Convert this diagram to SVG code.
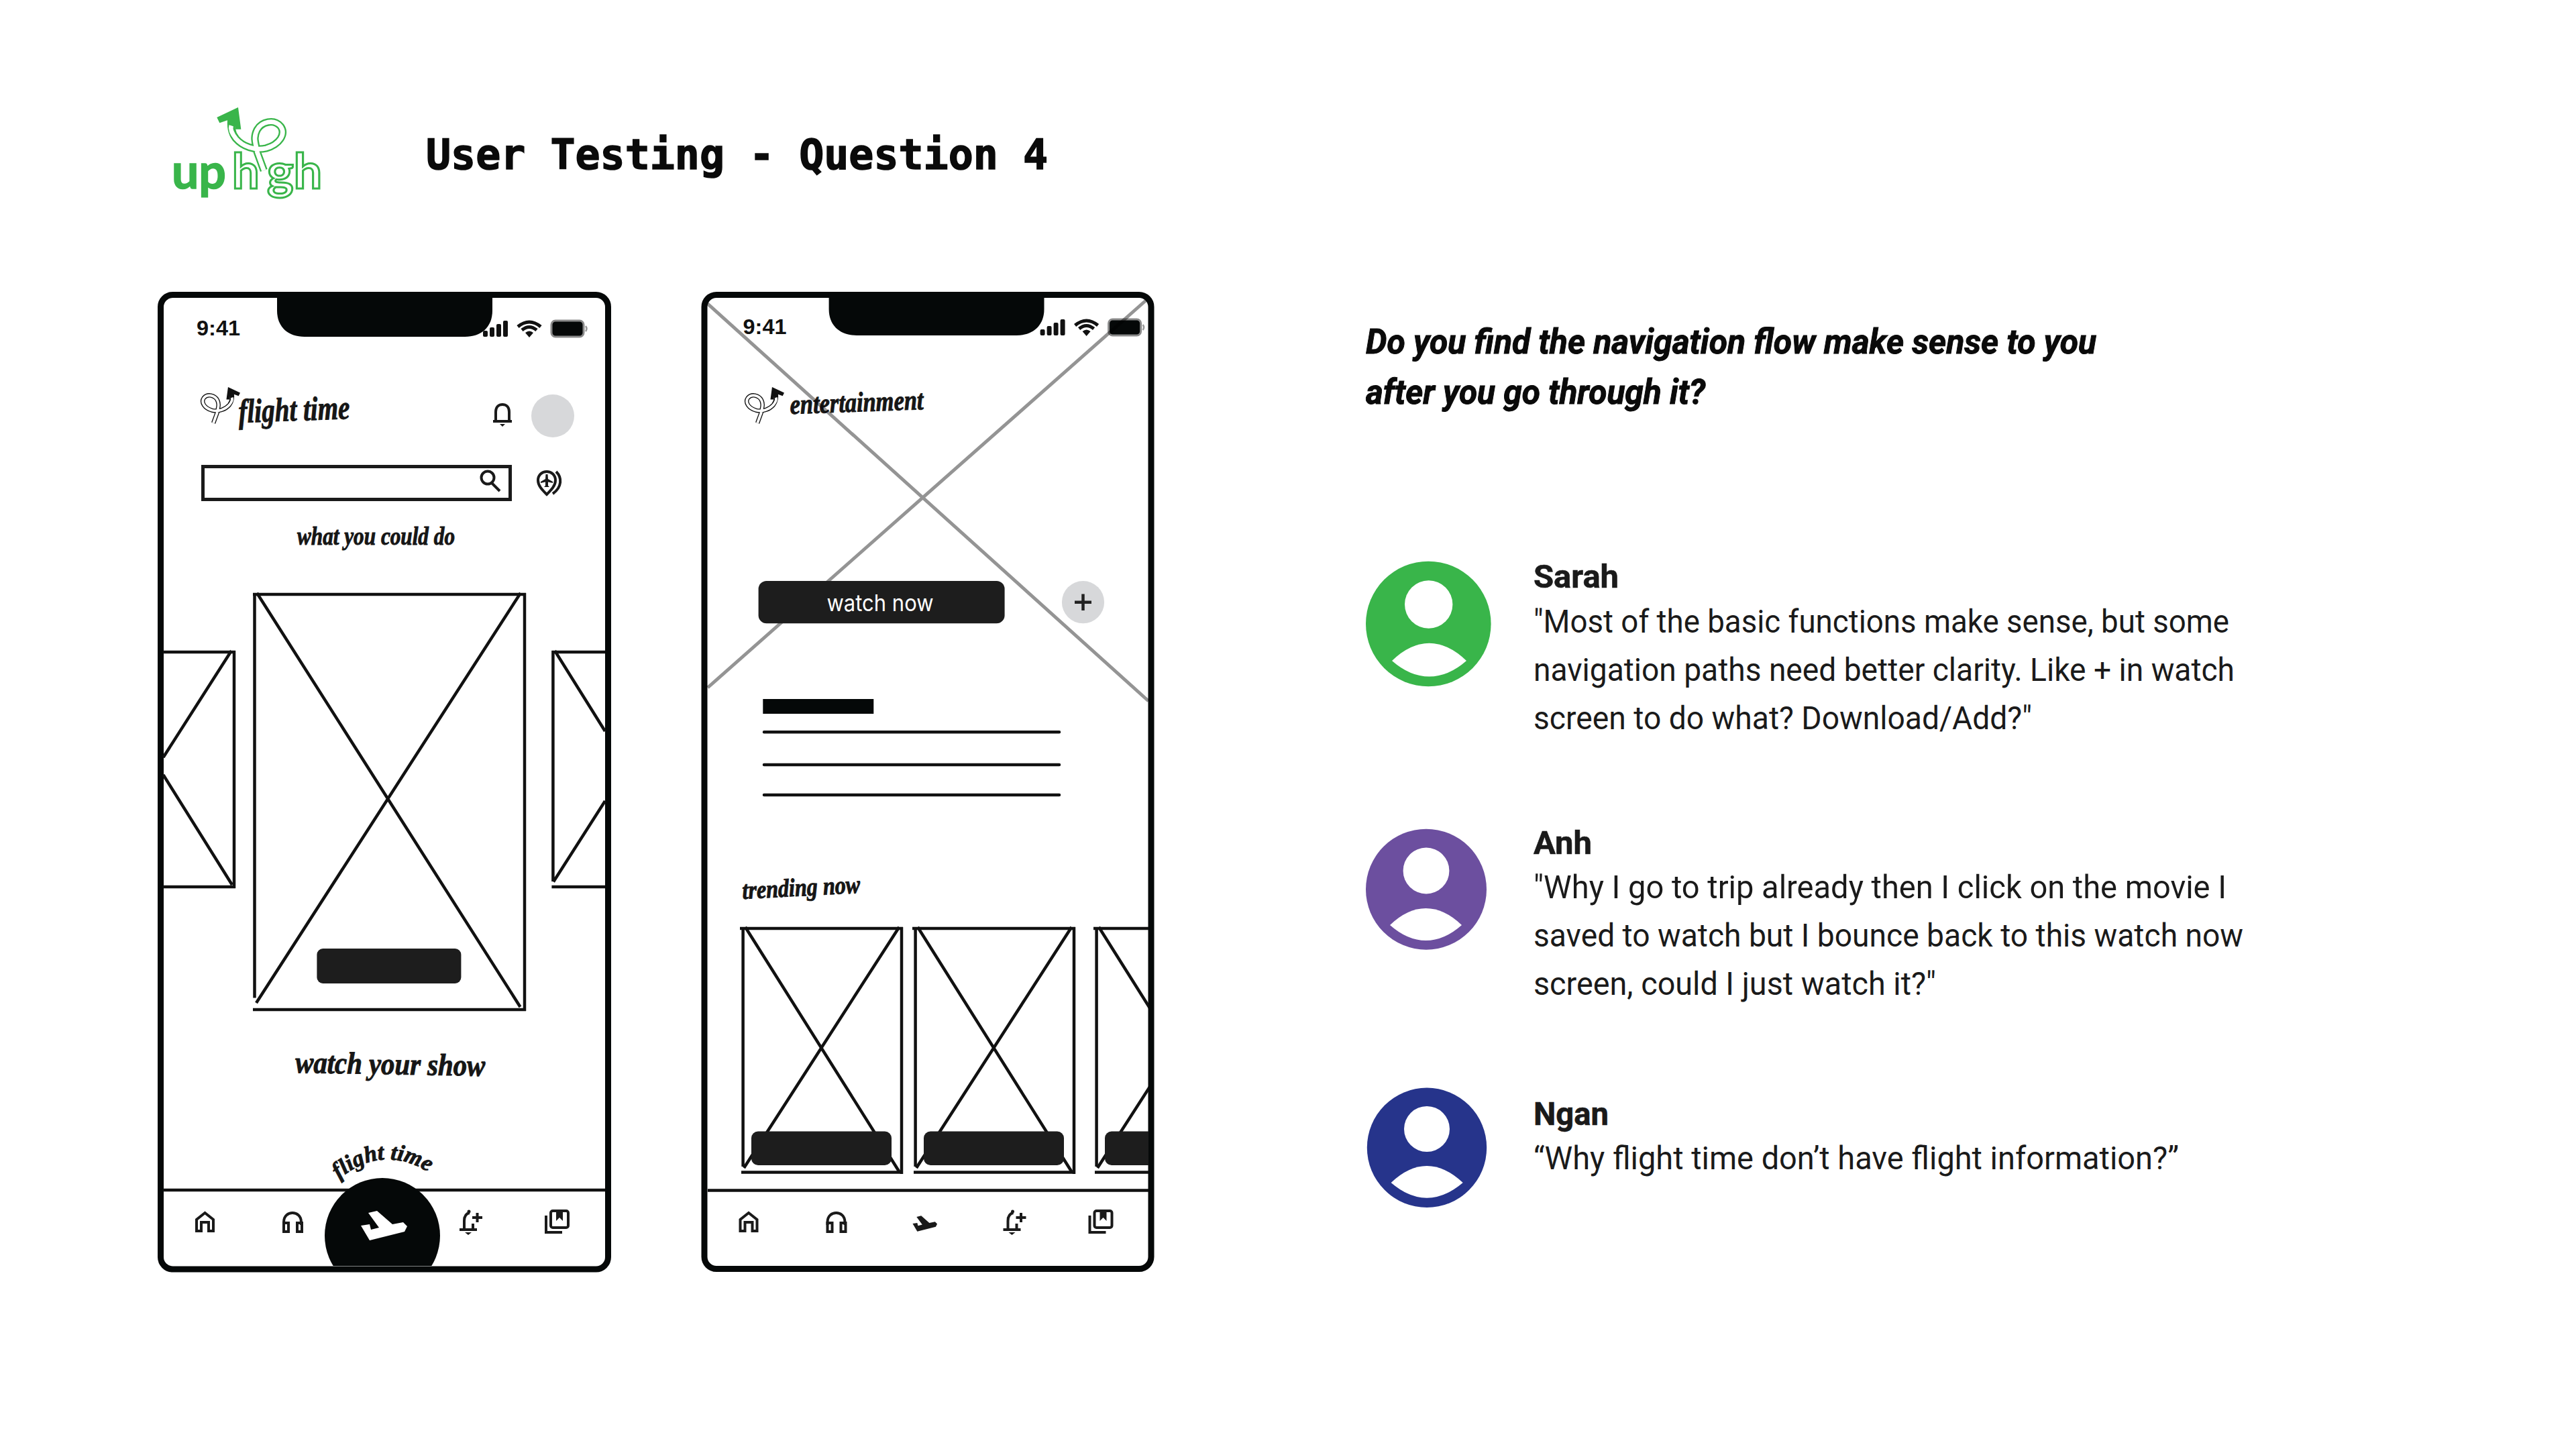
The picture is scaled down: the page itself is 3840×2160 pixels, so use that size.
<svg xmlns="http://www.w3.org/2000/svg" width="3840" height="2160" viewBox="0 0 3840 2160">
<style>
.frame{fill:#fff;stroke:#050808;stroke-width:9}
.ln{stroke:#111;stroke-width:4.5;fill:none}
.btn{fill:#1d1d1d}
.hand{font-family:"Liberation Serif",serif;font-style:italic;font-weight:700;fill:#161616;stroke:#161616;stroke-width:1}
.time{font-family:"Liberation Sans",sans-serif;font-weight:700;font-size:32px;fill:#111}
.ico{fill:none;stroke:#1a1a1a;stroke-width:4}
.q{font-family:Roboto,sans-serif;font-size:52px;font-weight:700;font-style:italic;fill:#0a0a0a;stroke:#0a0a0a;stroke-width:1}
.name{font-family:Roboto,sans-serif;font-size:48px;font-weight:700;fill:#1a1a1a;stroke:#1a1a1a;stroke-width:.6}
.body{font-family:Roboto,sans-serif;font-size:49px;font-weight:400;fill:#1a1a1a}
.logo{font-family:Lato,sans-serif;font-weight:700;font-size:72px}
</style>
<defs>
<g id="loop">
<path d="M460,312 L430,230 C425,190 410,170 430,130 C450,95 505,80 535,115 C560,150 530,195 470,213 C420,225 365,205 335,170 C315,145 310,110 316,72" fill="none" stroke="currentColor" stroke-width="34"/>
<path d="M460,312 L430,230 C425,190 410,170 430,130 C450,95 505,80 535,115 C560,150 530,195 470,213 C420,225 365,205 335,170 C315,145 310,125 314,112" fill="none" stroke="#fff" stroke-width="20"/>
<path d="M250,75 L345,30 L358,128 L332,128 L326,78 L262,100 Z" fill="currentColor"/>
</g>
<g id="status">
<rect x="0" y="15" width="7" height="9" rx="2" fill="#111"/><rect x="10" y="10" width="7" height="14" rx="2" fill="#111"/><rect x="20" y="5" width="7" height="19" rx="2" fill="#111"/><rect x="30" y="0" width="7" height="24" rx="2" fill="#111"/>
<path d="M52,8 Q69,-6 86,8 M58,13 Q69,4 80,13" fill="none" stroke="#111" stroke-width="5" transform="translate(0,1)"/>
<path d="M63,18 Q69,13 75,18 L69,25 Z" fill="#111"/>
<rect x="102" y="0" width="48" height="24" rx="6" fill="#050808" stroke="#8a8a8a" stroke-width="3"/>
<path d="M153,8 Q156,12 153,16" fill="none" stroke="#999" stroke-width="2.5"/>
</g>
<g id="nav">
<path class="ico" d="M293,1835 V1818 L305.5,1808 L318,1818 V1835 H311 V1822 H300 V1835 Z"/>
<path class="ico" d="M423,1826 V1822 C423,1812 430,1808 436,1808 C442,1808 449,1812 449,1822 V1826"/>
<rect class="ico" x="423" y="1823" width="7" height="13" stroke-width="3.5"/><rect class="ico" x="443" y="1823" width="7" height="13" stroke-width="3.5"/>
<path class="ico" d="M685,1833 H711 M692,1833 V1820 C692,1813 695,1809 700,1808 M705,1824 V1833"/>
<circle cx="699" cy="1806" r="2.5" fill="#1a1a1a"/><path d="M693,1837 H703 L698,1841 Z" fill="#1a1a1a"/>
<path class="ico" d="M704,1815 H719 M711.5,1808 V1822"/>
<path class="ico" d="M814,1812 V1837 H838"/>
<rect class="ico" x="821" y="1805" width="26" height="25" rx="3"/>
<path d="M829,1805 V1820 L834,1815 L839,1820 V1805 Z" fill="#1a1a1a"/>
</g>
<path id="plane" d="M-23,-19 L-10,-22 L13,-2 L29,-5 L35,1 L31,9 L-21,22 L-34,0 L-21,-2 L-19,6 L-7,3 Z"/>
<g id="card">
<path class="ln" d="M1106.6,1739 V1382 M1102,1384 H1345 M1343,1382 V1750 M1104,1747.6 H1345"/>
<path class="ln" d="M1110,1382 L1339.4,1746.5 M1339.4,1382 L1108,1741"/>
<rect class="btn" x="1119" y="1686.5" width="209" height="50.5" rx="10"/>
</g>
<path id="arc" d="M505,1758 Q572,1702 646,1752"/>
<clipPath id="p1clip"><rect x="244" y="444" width="658" height="1443"/></clipPath>
<clipPath id="p2clip"><rect x="1055" y="444" width="657" height="1443"/></clipPath>
</defs>
<rect width="3840" height="2160" fill="#fff"/>

<g id="logo" color="#39b54a">
<use href="#loop" transform="translate(240,150) scale(.3333)"/>
<text class="logo" x="256" y="281" fill="#39b54a" stroke="#39b54a" stroke-width="1.5" textLength="81" lengthAdjust="spacingAndGlyphs">up</text>
<text class="logo" x="346" y="281" fill="#fff" stroke="#39b54a" stroke-width="3">h</text>
<text class="logo" x="398" y="281" fill="#fff" stroke="#39b54a" stroke-width="3" textLength="82" lengthAdjust="spacingAndGlyphs">gh</text>
</g>
<g id="title"><text x="635" y="252" font-family="'DejaVu Sans Mono',monospace" font-weight="700" font-size="62" fill="#0a0a0a" stroke="#0a0a0a" stroke-width="1.5" textLength="927" lengthAdjust="spacingAndGlyphs">User Testing - Question 4</text></g>

<g id="phone-flight">
<rect class="frame" x="239.5" y="439.5" width="667" height="1452.5" rx="18"/>
<path d="M413,436 V463 C413,488 430,502 454,502 H693 C717,502 734,488 734,463 V436 Z" fill="#050808"/>
<text class="time" x="293" y="500" textLength="65" lengthAdjust="spacingAndGlyphs">9:41</text>
<use href="#status" x="720" y="478"/>
<use href="#loop" color="#111" transform="translate(405.5,571.3) scale(-.19,.19)"/>
<text class="hand" x="356" y="630" font-size="50" textLength="166" lengthAdjust="spacingAndGlyphs" transform="rotate(-2 356 630)">flight time</text>
<g id="bell"><path class="ico" d="M735,628 H763 M739,628 V614 C739,606 744,603 749,603 C754,603 759,606 759,614 V628"/><path d="M745,632 H753 L749,636 Z" fill="#1a1a1a"/></g>
<circle cx="824" cy="620" r="32" fill="#d7d8da"/>
<rect x="302.5" y="695.5" width="458" height="49" fill="#fff" stroke="#1a1a1a" stroke-width="5"/>
<circle class="ico" cx="727" cy="712" r="9.5"/><path class="ico" d="M733,720 L745,732"/>
<g id="pin"><path class="ico" d="M815,737 C808,730 802,724 802,716 C802,708 808,703 815,703 C822,703 828,708 828,716 C828,724 822,730 815,737 Z"/><path class="ico" d="M829,703 C838,712 838,726 824,736"/><path d="M813.5,707 H816.5 L817,714 L824,718 V720 L817,718.5 L817,724 L819,726 H811 L813,724 L813,718.5 L806,720 V718 L813,714 Z" fill="#1a1a1a"/></g>
<text class="hand" x="443" y="812" font-size="38" textLength="235" lengthAdjust="spacingAndGlyphs">what you could do</text>
<path class="ln" d="M379.5,884 V1487.5 M377,886 H784 M782,884 V1507 M377,1505 H784"/>
<path class="ln" d="M383,884 L775.5,1501 M776,884 L382,1495"/>
<rect class="btn" x="472.4" y="1414" width="215" height="52" rx="9"/>
<path class="ln" d="M243,972 H351 M349,970 V1324 M243,1322 H351 M345,970 L243.4,1129 M346,1319 L243.4,1155"/>
<path class="ln" d="M902,972 H822.4 M824.4,970 V1314 M902,1322 H822.4 M827,970 L902,1090 M825,1314.5 L902,1194"/>
<text class="hand" x="440" y="1599" font-size="46" textLength="283" lengthAdjust="spacingAndGlyphs" transform="rotate(1 440 1599)">watch your show</text>
<path class="ln" d="M243,1774 H902"/>
<text class="hand" font-size="34"><textPath href="#arc" startOffset="0">flight time</textPath></text>
<g clip-path="url(#p1clip)"><circle cx="570" cy="1842" r="86" fill="#050808"/></g>
<use href="#plane" fill="#fff" transform="translate(572,1827)"/>
<use href="#nav"/>
</g>

<g id="phone-entertainment">
<rect class="frame" x="1050" y="439.5" width="666" height="1452" rx="18"/>
<path d="M1235.6,436 V461 C1235.6,486 1253,500 1277,500 H1515 C1539,500 1556.5,486 1556.5,461 V436 Z" fill="#050808"/>
<text class="time" x="1107.5" y="498" textLength="65" lengthAdjust="spacingAndGlyphs">9:41</text>
<use href="#status" x="1550.6" y="476"/>
<use href="#loop" color="#111" transform="translate(1216.5,571.3) scale(-.19,.19)"/>
<text class="hand" x="1178" y="617" font-size="42" textLength="199" lengthAdjust="spacingAndGlyphs" transform="rotate(-2 1178 617)">entertainment</text>
<path d="M1054.7,452.7 L1712,1045 M1708,448 L1055,1025" fill="none" stroke="#000" stroke-opacity=".42" stroke-width="5"/>
<rect class="btn" x="1130.6" y="866" width="367" height="63.3" rx="12"/>
<text x="1312" y="911" text-anchor="middle" font-family="Inter,'Liberation Sans',sans-serif" font-size="34" fill="#fff" textLength="159" lengthAdjust="spacingAndGlyphs">watch now</text>
<circle cx="1614.5" cy="897.7" r="31.6" fill="#d7d8da"/>
<path d="M1602,897.7 H1627 M1614.5,885.5 V910" stroke="#222" stroke-width="4.5" fill="none"/>
<rect x="1137.3" y="1042" width="165" height="22" fill="#050808"/>
<path class="ln" stroke-linecap="round" d="M1139,1091.3 H1579 M1139,1140 H1579 M1139,1185 H1579"/>
<text class="hand" x="1107" y="1340" font-size="38" textLength="176" lengthAdjust="spacingAndGlyphs" transform="rotate(-3 1107 1340)">trending now</text>
<g clip-path="url(#p2clip)">
<use href="#card" x="1"/><use href="#card" x="258"/><use href="#card" x="528"/>
</g>
<path class="ln" d="M1055,1774.5 H1712"/>
<use href="#plane" fill="#1a1a1a" transform="translate(1378.5,1824) scale(.53)"/>
<use href="#nav" x="810.5"/>
</g>

<g id="question">
<text class="q" x="2036" y="527" textLength="1089" lengthAdjust="spacingAndGlyphs">Do you find the navigation flow make sense to you</text>
<text class="q" x="2036" y="602" textLength="506" lengthAdjust="spacingAndGlyphs">after you go through it?</text>
</g>

<g id="sarah">
<circle cx="2129.3" cy="930" r="93.3" fill="#39b54a"/><circle cx="2129.7" cy="901" r="35.7" fill="#fff"/>
<path d="M2075,985 Q2102,958.7 2130.5,958.7 Q2159,958.7 2186,985 Q2159,1008.6 2130.5,1008.6 Q2102,1008.6 2075,985 Z" fill="#fff"/>
<text class="name" x="2286" y="876" textLength="127" lengthAdjust="spacingAndGlyphs">Sarah</text>
<text class="body" x="2286" y="943" textLength="1037" lengthAdjust="spacingAndGlyphs">"Most of the basic functions make sense, but some</text>
<text class="body" x="2286" y="1015" textLength="1045" lengthAdjust="spacingAndGlyphs">navigation paths need better clarity. Like + in watch</text>
<text class="body" x="2286" y="1087" textLength="743" lengthAdjust="spacingAndGlyphs">screen to do what? Download/Add?"</text>
</g>
<g id="anh">
<circle cx="2126" cy="1325.7" r="90" fill="#6c4f9f"/><circle cx="2126" cy="1298" r="34.4" fill="#fff"/>
<path d="M2072,1379 Q2098,1354 2125.5,1354 Q2153,1354 2179,1379 Q2153,1402 2125.5,1402 Q2098,1402 2072,1379 Z" fill="#fff"/>
<text class="name" x="2286" y="1273" textLength="87" lengthAdjust="spacingAndGlyphs">Anh</text>
<text class="body" x="2286" y="1339" textLength="1033" lengthAdjust="spacingAndGlyphs">"Why I go to trip already then I click on the movie I</text>
<text class="body" x="2286" y="1411" textLength="1058" lengthAdjust="spacingAndGlyphs">saved to watch but I bounce back to this watch now</text>
<text class="body" x="2286" y="1483" textLength="600" lengthAdjust="spacingAndGlyphs">screen, could I just watch it?"</text>
</g>
<g id="ngan">
<circle cx="2127" cy="1710.8" r="89.2" fill="#26348b"/><circle cx="2127" cy="1683" r="34" fill="#fff"/>
<path d="M2073.6,1763 Q2100,1738 2127,1738 Q2154,1738 2180.7,1763 Q2154,1785.7 2127,1785.7 Q2100,1785.7 2073.6,1763 Z" fill="#fff"/>
<text class="name" x="2286" y="1677" textLength="112" lengthAdjust="spacingAndGlyphs">Ngan</text>
<text class="body" x="2286" y="1743" textLength="962" lengthAdjust="spacingAndGlyphs">“Why flight time don’t have flight information?”</text>
</g>
</svg>
